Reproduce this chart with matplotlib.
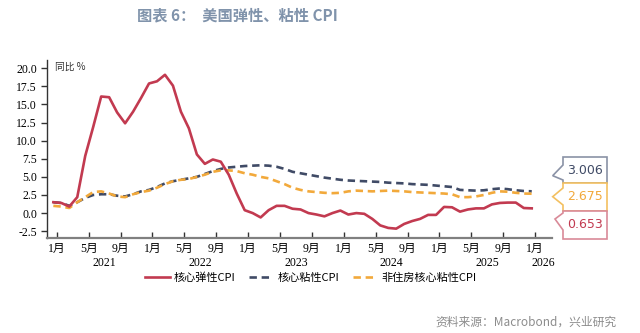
import numpy as np
import matplotlib
matplotlib.use("Agg")
import matplotlib.pyplot as plt
from matplotlib.patches import Polygon
from matplotlib.transforms import blended_transform_factory

plt.rcParams['font.family'] = ['Liberation Serif', 'Noto Sans CJK SC', 'DejaVu Sans']
plt.rcParams['axes.unicode_minus'] = False

# monthly data, Jan 2021 .. Jan 2026 (yoy %)
flex_core = [1.5, 1.4, 0.9, 2.2, 7.9, 11.9, 16.1, 16.0, 13.9, 12.4, 14.0, 15.9,
             17.9, 18.2, 19.1, 17.6, 14.0, 11.7, 8.1, 6.8, 7.4, 7.1, 5.3, 2.7,
             0.4, 0.0, -0.6, 0.4, 1.0, 1.0, 0.6, 0.5, 0.0, -0.2, -0.45, 0.0,
             0.35, -0.2, 0.0, -0.1, -0.8, -1.7, -2.05, -2.15, -1.5, -1.1, -0.8, -0.25,
             -0.25, 0.85, 0.8, 0.2, 0.5, 0.65, 0.65, 1.2, 1.4, 1.45, 1.45, 0.7, 0.653]
sticky_core = [1.5, 1.4, 1.0, 1.5, 2.1, 2.5, 2.6, 2.6, 2.4, 2.3, 2.6, 3.0,
               3.2, 3.6, 4.1, 4.4, 4.6, 4.8, 5.0, 5.4, 5.8, 6.1, 6.3, 6.4,
               6.5, 6.55, 6.6, 6.55, 6.4, 6.1, 5.7, 5.5, 5.3, 5.1, 4.9, 4.75,
               4.6, 4.5, 4.45, 4.4, 4.35, 4.3, 4.2, 4.15, 4.1, 4.0, 3.95, 3.9,
               3.8, 3.7, 3.6, 3.2, 3.15, 3.1, 3.15, 3.3, 3.4, 3.3, 3.15, 3.05, 3.006]
sticky_ex_shelter = [1.0, 0.9, 0.7, 1.5, 2.2, 2.9, 3.0, 2.7, 2.3, 2.2, 2.6, 2.9,
                     3.1, 3.5, 4.0, 4.4, 4.6, 4.7, 5.0, 5.3, 5.7, 5.9, 5.9, 5.8,
                     5.5, 5.3, 5.0, 4.8, 4.4, 4.0, 3.5, 3.2, 3.0, 2.9, 2.8, 2.75,
                     2.8, 3.0, 3.1, 3.05, 3.0, 3.05, 3.1, 3.05, 3.0, 2.9, 2.85, 2.8,
                     2.75, 2.7, 2.6, 2.2, 2.2, 2.3, 2.5, 2.8, 3.0, 2.95, 2.8, 2.7, 2.675]

series_names = ['核心弹性CPI', '核心粘性CPI', '非住房核心粘性CPI']
month_labels = ['1月', '5月', '9月'] * 5 + ['1月']
years = ['2021', '2022', '2023', '2024', '2025', '2026']

red = '#c23a50'
navy = '#404b66'
orange = '#f2a93b'

x = np.arange(len(flex_core))
tick_shift = 0.43

fig = plt.figure(figsize=(6.4, 3.33), dpi=100)
ax = fig.add_axes([0.073, 0.284, 0.789, 0.536])

ax.plot(x, sticky_core, color=navy, lw=1.9, dashes=(2.8, 1.8), label=series_names[1], zorder=2)
ax.plot(x, sticky_ex_shelter, color=orange, lw=1.9, dashes=(2.8, 1.8), label=series_names[2], zorder=3)
ax.plot(x, flex_core, color=red, lw=1.9, label=series_names[0], zorder=4)

ax.set_xlim(-0.83, 62.5)
ax.set_ylim(-3.5, 21.15)
ax.set_yticks(np.arange(-2.5, 20.1, 2.5))
ax.set_yticklabels([f"{v:.1f}" for v in np.arange(-2.5, 20.1, 2.5)], fontsize=8.5)

ticks = tick_shift + 4 * np.arange(len(month_labels))
ax.set_xticks(ticks)
ax.set_xticklabels(month_labels, fontsize=8.5)
ax.tick_params(axis='x', direction='in', length=4, width=1, color='#333333', pad=3)
ax.tick_params(axis='y', direction='out', length=4, width=1, color='#333333', pad=3)

for s in ['top', 'right']:
    ax.spines[s].set_visible(False)
ax.spines['left'].set_color('#333333')
ax.spines['left'].set_linewidth(1)
ax.spines['bottom'].set_color('#808080')
ax.spines['bottom'].set_linewidth(1.6)

# year labels centred under each visible year
trans = blended_transform_factory(ax.transData, ax.transAxes)
xmax = ax.get_xlim()[1]
for k, yr in enumerate(years):
    start = tick_shift + 12 * k
    end = min(start + 12, xmax)
    ax.text((start + end) / 2, -0.14, yr, transform=trans, ha='center', va='center', fontsize=8.5)

fig.text(0.086, 0.80, '同比 %', fontsize=7, family=['Noto Sans CJK SC'], color='#333333', va='center')

handles, labels = ax.get_legend_handles_labels()
order = [2, 0, 1]
fig.legend([handles[i] for i in order], [labels[i] for i in order], loc='center',
           bbox_to_anchor=(0.486, 0.166), ncol=3, frameon=False, handlelength=2.2,
           columnspacing=1.2, handletextpad=0.4, prop={'family': 'Noto Sans CJK SC', 'size': 8})

fig.text(0.214, 0.955, '图表 6：  美国弹性、粘性 CPI', fontsize=11, color='#8093ab',
         family=['Noto Sans CJK SC'], fontweight='bold', va='center')
fig.text(0.964, 0.033, '资料来源：Macrobond，兴业研究', fontsize=8.5, color='#8c8c8c',
         family=['Noto Sans CJK SC'], ha='right', va='center')

# end-value callouts
def px(xp, yp):
    return (xp / 640, 1 - yp / 333)

callouts = [
    (sticky_core[-1], navy, '#8a92a6', 157, 183, (552.7, 175.7), 165, 180),
    (sticky_ex_shelter[-1], orange, '#f3c060', 183, 211, (552.7, 196.7), 188, 205),
    (flex_core[-1], red, '#d98a98', 211, 239, (555, 219), 213, 230),
]
x0, x1 = 563, 607
for val, tc, ec, top, bot, tip, ta, tb in callouts:
    pts = [px(x0, top), px(x1, top), px(x1, bot), px(x0, bot), px(x0, tb), px(*tip), px(x0, ta)]
    fig.patches.append(Polygon(pts, closed=True, transform=fig.transFigure, facecolor='white',
                               edgecolor=ec, lw=1.2, zorder=5))
    cx, cy = px((x0 + x1) / 2, (top + bot) / 2)
    fig.text(cx, cy, f"{val:.3f}", color=tc, fontsize=9, family=['DejaVu Sans'],
             ha='center', va='center', zorder=6)

fig.savefig('out.png', dpi=100)
